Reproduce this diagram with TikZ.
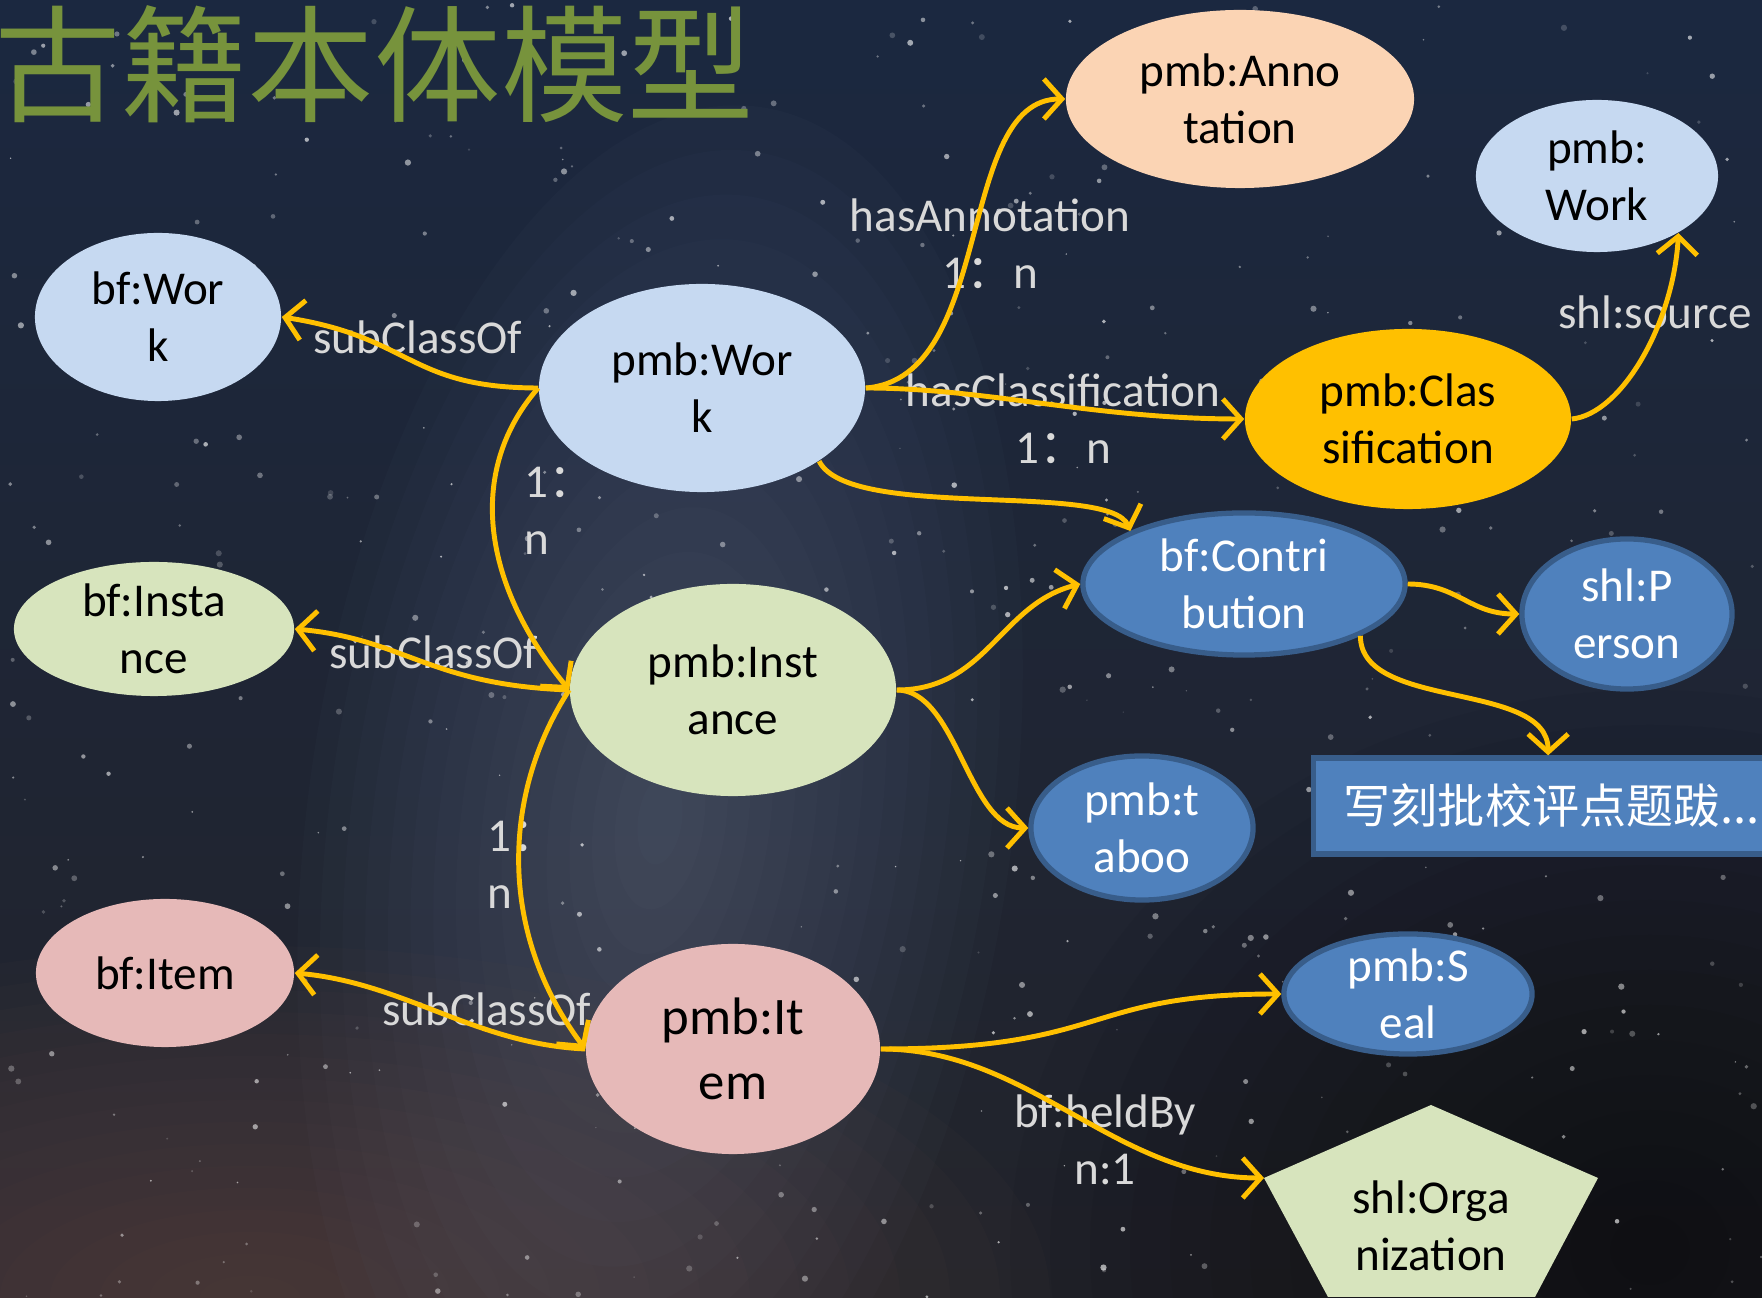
\documentclass[tikz,border=0pt]{standalone}
\usepackage{fontspec}
\setmainfont{Carlito}
\newfontfamily\cjk{Noto Sans CJK SC}
\usetikzlibrary{arrows.meta,shapes.geometric}
\definecolor{skytop}{HTML}{1B2840}
\definecolor{skybottom}{HTML}{22232A}
\definecolor{milky}{HTML}{7C88A4}
\definecolor{dust}{HTML}{6A5048}
\definecolor{titlegreen}{HTML}{77933C}
\definecolor{lightblue}{HTML}{C6D9F1}
\definecolor{peach}{HTML}{FBD4B4}
\definecolor{gold}{HTML}{FFC000}
\definecolor{midblue}{HTML}{4F81BD}
\definecolor{edgeblue}{HTML}{385D8A}
\definecolor{palegreen}{HTML}{D7E4BD}
\definecolor{pink}{HTML}{E6B9B8}
\definecolor{labelgray}{HTML}{D9D9D9}
\tikzset{>={Straight Barb[length=1.8mm,width=4mm]}}
\tikzstyle{concept} = [ellipse, inner sep=-1pt, align=center, text=black, font=\fontsize{13.4}{16.2}\selectfont]
\tikzstyle{bluecon} = [concept, fill=midblue, draw=edgeblue, line width=1.5pt, text=white]
\tikzstyle{rel} = [->, draw=gold, line width=1.4pt]
\tikzstyle{rellabel} = [text=labelgray, align=center, inner sep=0pt, font=\fontsize{13.4}{16.2}\selectfont]

\begin{document}
\begin{tikzpicture}[x=0.01cm, y=-0.01cm]
    \useasboundingbox (0,0) rectangle (1762,1298);
    % night sky
    \fill[top color=skytop, bottom color=skybottom] (0,0) rectangle (1762,1298);
    \foreach \k in {1,...,16}
    {
        \fill[milky, opacity=0.03, rotate around={-8:(660,820)}] (660,820) ellipse ({22*\k} and {45*\k});
        \fill[dust, opacity=0.05] (250,1298) ellipse ({50*\k} and {22*\k});
        \fill[black, opacity=0.035] (1650,1250) ellipse ({40*\k} and {35*\k});
    }
    \pgfmathsetseed{42}
    \foreach \s in {1,...,500}
    {
        \pgfmathsetmacro{\sx}{rnd*1762}
        \pgfmathsetmacro{\sy}{rnd*1298}
        \pgfmathsetmacro{\sr}{0.2+rnd*0.7}
        \pgfmathsetmacro{\so}{0.15+rnd*0.5}
        \fill[white, opacity=\so] (\sx,\sy) circle (\sr pt);
    }
    \node[anchor=west, inner sep=0pt, text=titlegreen, font=\cjk\fontsize{36}{40}\selectfont] (T) at (-6,64) {古籍本体模型};

    % pentagon
    \fill[palegreen] (1431,1105) -- (1598,1178) -- (1535,1297) -- (1328,1297) -- (1264,1178) -- cycle;
    \coordinate (OrgW) at (1264,1178);
    \node[concept] (OR) at (1431,1226) {shl:Orga\\nization};

    \node[rellabel] (lSubW) at (418,337) {subClassOf};
    \node[rellabel] (lSubI) at (434,652) {subClassOf};
    \node[rellabel] (lSubT) at (487,1009) {subClassOf};
    \node[rellabel] (lAnn) at (990,244) {hasAnnotation\\1{\cjk ：}n};
    \node[rellabel] (lCls) at (1063,419) {hasClassification\\1{\cjk ：}n};
    \node[rellabel] (lSrc) at (1655,312) {shl:source};
    \node[rellabel] (lHeld) at (1105,1140) {bf:heldBy\\n:1};
    \node[rellabel, anchor=west, align=left] (lWI) at (524,511) {1{\cjk ：}\\n};
    \node[rellabel, anchor=west, align=left] (lIT) at (487,865) {1{\cjk ：}\\n};

    \node[concept, fill=lightblue, minimum width=2.46cm, minimum height=1.68cm] (BW) at (158,317) {bf:Wor\\k};
    \node[concept, fill=lightblue, minimum width=3.26cm, minimum height=2.08cm] (PW) at (702,388) {pmb:Wor\\k};
    \node[concept, fill=peach, minimum width=3.48cm, minimum height=1.78cm] (AN) at (1240,99) {pmb:Anno\\tation};
    \node[concept, fill=lightblue, minimum width=2.42cm, minimum height=1.52cm] (SW) at (1597,176) {pmb:\\Work};
    \node[concept, fill=gold, minimum width=3.26cm, minimum height=1.80cm] (CL) at (1408,419) {pmb:Clas\\sification};
    \node[bluecon, minimum width=3.22cm, minimum height=1.42cm] (CT) at (1244,584) {bf:Contri\\bution};
    \node[bluecon, minimum width=2.10cm, minimum height=1.50cm] (PE) at (1627,614) {shl:P\\erson};
    \node[concept, fill=palegreen, minimum width=2.80cm, minimum height=1.34cm] (BI) at (154,629) {bf:Insta\\nce};
    \node[concept, fill=palegreen, minimum width=3.26cm, minimum height=2.12cm] (PI) at (733,690) {pmb:Inst\\ance};
    \node[bluecon, minimum width=2.22cm, minimum height=1.44cm] (TB) at (1142,828) {pmb:t\\aboo};
    \node[concept, fill=pink, minimum width=2.58cm, minimum height=1.48cm] (BT) at (165,973) {bf:Item};
    \node[concept, fill=pink, minimum width=2.94cm, minimum height=2.10cm, font=\fontsize{15}{18.4}\selectfont] (PT) at (733,1049) {pmb:It\\em};
    \node[bluecon, minimum width=2.48cm, minimum height=1.20cm] (SE) at (1408,994) {pmb:S\\eal};
    \node[anchor=west, fill=midblue, draw=edgeblue, line width=1.5pt, text=white, minimum height=0.96cm, inner xsep=0.3cm, text width=4.4cm, align=left, font=\cjk\fontsize{13.4}{16.2}\selectfont] (NT) at (1311,806) {写刻批校评点题跋...};

    \draw[rel] (PW.west) .. controls +(-130,0) and +(130,20) .. (BW.east);
    \draw[rel] (PW.west) .. controls +(-70,80) and +(-90,-110) .. (PI.west);
    \draw[rel] (PI.west) .. controls +(-140,-5) and +(110,10) .. (BI.east);
    \draw[rel] (PI.west) .. controls +(-65,100) and +(-90,-120) .. (PT.west);
    \draw[rel] (PT.west) .. controls +(-110,-5) and +(110,10) .. (BT.east);
    \draw[rel] (PW.east) .. controls +(130,-10) and +(-110,0) .. (AN.west);
    \draw[rel] (PW.east) .. controls +(120,0) and +(-150,0) .. (CL.west);
    \draw[rel] (PW.-32) .. controls +(30,60) and +(-20,-50) .. (CT.155);
    \draw[rel] (PI.east) .. controls +(90,0) and +(-80,20) .. (CT.west);
    \draw[rel] (PI.east) .. controls +(60,0) and +(-60,0) .. (TB.west);
    \draw[rel] (CT.east) .. controls +(50,0) and +(-50,0) .. (PE.west);
    \draw[rel] (CT.-24) .. controls +(0,75) and +(0,-75) .. ([xshift=2.37cm]NT.north west);
    \draw[rel] (CL.east) .. controls +(50,-5) and +(-5,90) .. (SW.-35);
    \draw[rel] (PT.east) .. controls +(230,0) and +(-200,0) .. (SE.west);
    \draw[rel] (PT.east) .. controls +(150,0) and +(-150,0) .. (OrgW);
\end{tikzpicture}
\end{document}
